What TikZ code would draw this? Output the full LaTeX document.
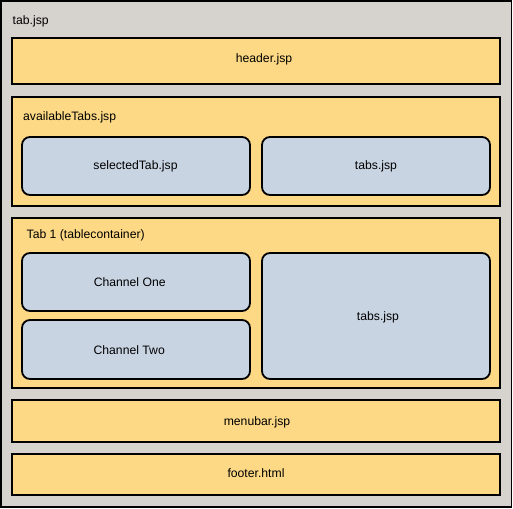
\documentclass[tikz,border=0pt]{standalone}
\usepackage{fontspec}
\setmainfont{Liberation Sans}
\definecolor{outergray}{HTML}{D6D3CE}
\definecolor{ylw}{HTML}{FDD985}
\definecolor{blu}{HTML}{C9D4E3}
\tikzset{
  outerbox/.style={draw=black, line width=1.5pt, fill=outergray},
  ybox/.style={draw=black, line width=1.8pt, fill=ylw},
  bbox/.style={draw=black, line width=1.8pt, fill=blu, rounded corners=8pt},
  lbl/.style={font=\fontsize{12.2}{14}\selectfont, inner sep=0pt, anchor=base},
  lbll/.style={lbl, anchor=base west},
}
\begin{document}
\begin{tikzpicture}[x=1pt,y=-1pt]
\useasboundingbox (0,0) rectangle (513,508);
\draw[outerbox] (1,1) rectangle (511.5,507);
\node[lbll] (tabjsp) at (12.5,25) {tab.jsp};
% header
\draw[ybox] (12,38) rectangle (500,84);
\node[lbl] (header) at (264,62.5) {header.jsp};
% availableTabs
\draw[ybox] (12,97) rectangle (500,206);
\node[lbll] (avail) at (23,120.5) {availableTabs.jsp};
\draw[bbox] (22,137) rectangle (250,195);
\node[lbl] (sel) at (135.5,169.5) {selectedTab.jsp};
\draw[bbox] (262,137) rectangle (490,195);
\node[lbl] (tabs1) at (376,169.5) {tabs.jsp};
% Tab 1
\draw[ybox] (12,218) rectangle (500,388);
\node[lbll] (tab1) at (26.5,238.5) {Tab 1 (tablecontainer)};
\draw[bbox] (22,253) rectangle (250,311);
\node[lbl] (ch1) at (129.7,286.7) {Channel One};
\draw[bbox] (22,320) rectangle (250,379);
\node[lbl] (ch2) at (129.2,354) {Channel Two};
\draw[bbox] (262,253) rectangle (490,379);
\node[lbl] (tabs2) at (378,320.5) {tabs.jsp};
% menubar
\draw[ybox] (12,400) rectangle (500,442);
\node[lbl] (menubar) at (257,425.5) {menubar.jsp};
% footer
\draw[ybox] (12,454) rectangle (500,495);
\node[lbl] (footer) at (256,477.5) {footer.html};
\end{tikzpicture}
\end{document}
